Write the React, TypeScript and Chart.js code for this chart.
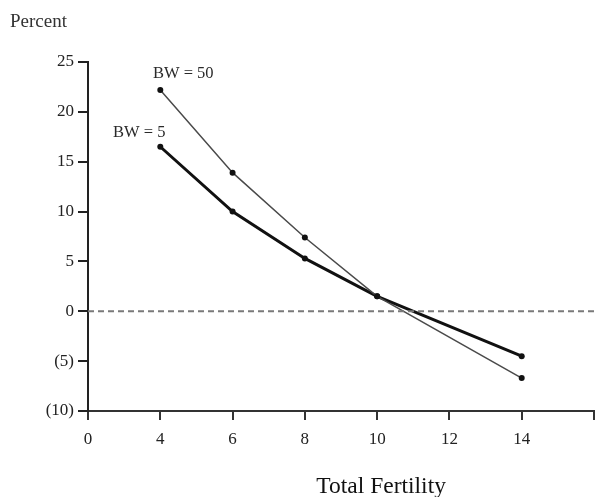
import React, { useEffect, useRef } from "react";
import { Chart, registerables } from "chart.js";

Chart.register(...registerables);

const categories = ["0", "4", "6", "8", "10", "12", "14", ""];
const bw50Values = [null, 22.2, 13.9, 7.4, 1.5, null, -6.7, null];
const bw5Values = [null, 16.5, 10.0, 5.3, 1.5, null, -4.5, null];
const zeroLine = [0, 0, 0, 0, 0, 0, 0, 0];
const yMin = -10;
const yMax = 25;
const yStep = 5;

const seriesLabels = [
  { text: "BW = 50", x: 1, y: 23.8, dx: 23 },
  { text: "BW = 5", x: 1, y: 17.9, dx: -21 },
];

const FONT = "'Liberation Serif', 'Times New Roman', serif";

const textPlugin = {
  id: "textLabels",
  afterDraw(chart: any) {
    const { ctx, scales } = chart;
    const xs = scales.x;
    const ys = scales.y;
    ctx.save();
    ctx.fillStyle = "#2a2a2a";
    ctx.font = `16.5px ${FONT}`;
    ctx.textAlign = "center";
    ctx.textBaseline = "middle";
    for (const l of seriesLabels) {
      ctx.fillText(l.text, xs.getPixelForValue(l.x) + l.dx, ys.getPixelForValue(l.y));
    }
    ctx.font = `23.5px ${FONT}`;
    ctx.fillStyle = "#111";
    ctx.fillText("Total Fertility", xs.getPixelForValue(4) + 4, 487);
    ctx.restore();
  },
};

export default function App() {
  const ref = useRef<HTMLCanvasElement>(null);
  useEffect(() => {
    if (!ref.current) return;
    const chart = new Chart(ref.current, {
      type: "line",
      data: {
        labels: categories,
        datasets: [
          {
            label: "zero",
            data: zeroLine,
            borderColor: "#7a7a7a",
            borderWidth: 2,
            borderDash: [6, 4],
            pointRadius: 0,
            fill: false,
          },
          {
            label: "BW = 50",
            data: bw50Values,
            borderColor: "#4a4a4a",
            borderWidth: 1.5,
            pointRadius: 3,
            pointBorderWidth: 0,
            pointBackgroundColor: "#111",
            pointBorderColor: "#111",
            spanGaps: true,
            fill: false,
          },
          {
            label: "BW = 5",
            data: bw5Values,
            borderColor: "#111",
            borderWidth: 3,
            pointRadius: 3,
            pointBorderWidth: 0,
            pointBackgroundColor: "#111",
            pointBorderColor: "#111",
            spanGaps: true,
            fill: false,
          },
        ],
      },
      options: {
        responsive: false,
        animation: false,
        layout: { padding: { left: 10, right: 2, top: 0, bottom: 0 } },
        plugins: {
          legend: { display: false },
          tooltip: { enabled: false },
          title: {
            display: true,
            text: "Percent",
            align: "start",
            color: "#333",
            font: { family: FONT, size: 19, weight: "normal", lineHeight: 1.2 },
            padding: { top: 11, bottom: 28.2 },
          },
        },
        scales: {
          x: {
            type: "category",
            offset: false,
            afterFit: (s: any) => {
              s.height = 86;
              s.paddingLeft = 0;
              s.paddingRight = 0;
            },
            grid: {
              display: true,
              drawOnChartArea: false,
              drawTicks: true,
              tickLength: 9,
              color: "#333",
              lineWidth: 2,
            },
            border: { display: true, color: "#333", width: 2 },
            ticks: {
              autoSkip: false,
              maxRotation: 0,
              color: "#222",
              padding: 9,
              font: { family: FONT, size: 17 },
            },
          },
          y: {
            type: "linear",
            min: yMin,
            max: yMax,
            afterFit: (s: any) => {
              s.width = 78;
            },
            grid: {
              display: true,
              drawOnChartArea: false,
              drawTicks: true,
              tickLength: 10,
              color: "#222",
              lineWidth: 2,
            },
            border: { display: true, color: "#222", width: 2 },
            ticks: {
              stepSize: yStep,
              color: "#222",
              padding: 4,
              font: { family: FONT, size: 17 },
              callback: (v: any) => (Number(v) < 0 ? `(${-Number(v)})` : `${v}`),
            },
          },
        },
      },
      plugins: [textPlugin],
    });
    return () => chart.destroy();
  }, []);
  return (
    <div style={{ position: "absolute", left: 0, top: 0, width: 598, height: 497, background: "#fff" }}>
      <canvas ref={ref} width={598} height={497} style={{ display: "block" }} />
    </div>
  );
}
